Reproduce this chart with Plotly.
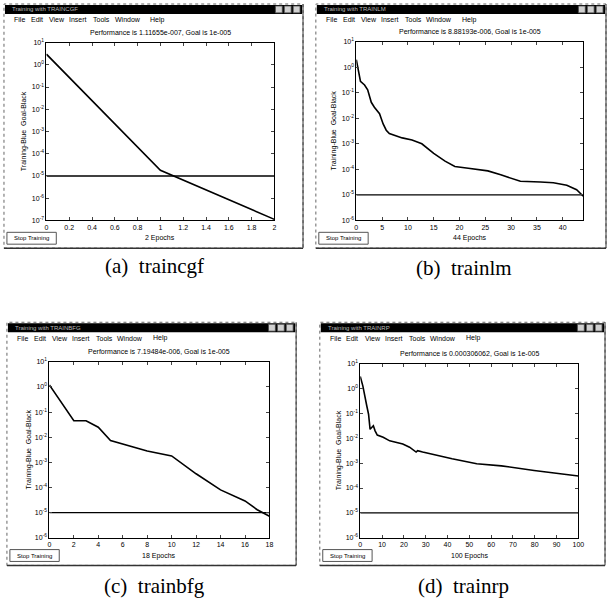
import plotly.graph_objects as go

W, H = 613, 602

# ---------------- data ----------------
goal = 1e-5

a_epochs = [0, 1, 2]
a_perf = [3.0, 1.8e-5, 1.11655e-7]

b_epochs = [0, 0.3, 0.8, 1.6, 2.2, 2.9, 3.5, 4.5, 5.2, 5.8, 6.4, 8.9, 10.8, 12.7, 15,
            17.2, 19.1, 21.7, 25.5, 28, 30, 31.8, 35.7, 38.2, 40.8, 42.7, 44]
b_perf = [1.95, 0.8, 0.28, 0.2, 0.13, 0.042, 0.027, 0.015, 0.006, 0.0034, 0.0025, 0.0017,
          0.0014, 0.001, 4.2e-4, 2.1e-4, 1.3e-4, 1.1e-4, 8.7e-5, 6.1e-5, 4.6e-5, 3.4e-5,
          3.2e-5, 3.0e-5, 2.4e-5, 1.6e-5, 8.88193e-6]

c_epochs = [0, 2, 3, 4, 5, 6, 8, 10, 12, 14, 16, 17, 18]
c_perf = [1.2, 0.045, 0.045, 0.025, 0.0073, 0.0052, 0.0028, 0.0018, 3.5e-4, 8e-5,
          2.9e-5, 1.3e-5, 7.19484e-6]

d_epochs = [0, 1.2, 3.0, 3.8, 4.5, 6.0, 6.8, 7.8, 10.5, 13.5, 19.5, 22.6, 25.6, 26.3,
            28.6, 34.6, 42.1, 53.4, 64.7, 79.7, 90.2, 100]
d_perf = [3.1, 1.26, 0.2, 0.093, 0.023, 0.032, 0.02, 0.0135, 0.011, 0.0079, 0.0059,
          0.0044, 0.0028, 0.0032, 0.0028, 0.0021, 0.0015, 9.5e-4, 7.8e-4, 5.1e-4,
          3.8e-4, 3.06062e-4]

a_xticks = [0, 0.2, 0.4, 0.6, 0.8, 1, 1.2, 1.4, 1.6, 1.8, 2]
a_xticktext = ["0", "0.2", "0.4", "0.6", "0.8", "1", "1.2", "1.4", "1.6", "1.8", "2"]
b_xticks = [0, 5, 10, 15, 20, 25, 30, 35, 40]
c_xticks = [0, 2, 4, 6, 8, 10, 12, 14, 16, 18]
d_xticks = [0, 10, 20, 30, 40, 50, 60, 70, 80, 90, 100]

a_yexp = [1, 0, -1, -2, -3, -4, -5, -6, -7]
bcd_yexp = [1, 0, -1, -2, -3, -4, -5, -6]

titles = ["Performance is 1.11655e-007, Goal is 1e-005",
          "Performance is 8.88193e-006, Goal is 1e-005",
          "Performance is 7.19484e-006, Goal is 1e-005",
          "Performance is 0.000306062, Goal is 1e-005"]
xtitles = ["2 Epochs", "44 Epochs", "18 Epochs", "100 Epochs"]
captions = ["(a)  traincgf", "(b)  trainlm", "(c)  trainbfg", "(d)  trainrp"]
wintitles = ["Training with TRAINCGF", "Training with TRAINLM",
             "Training with TRAINBFG", "Training with TRAINRP"]
menu_items = ["File", "Edit", "View", "Insert", "Tools", "Window", "Help"]

# ---------------- layout geometry (pixels) ----------------
panels = [
    dict(x=a_epochs, y=a_perf, xt=a_xticks, xtt=a_xticktext, yexp=a_yexp, xmax=2,
         plot=(45, 39, 276, 219), win=(2, 0, 305, 247), cap=(155, 265), ylab_x=22),
    dict(x=b_epochs, y=b_perf, xt=b_xticks, xtt=[str(v) for v in b_xticks], yexp=bcd_yexp, xmax=44,
         plot=(359, 38, 589, 219), win=(318, 0, 612, 247), cap=(468, 267), ylab_x=336),
    dict(x=c_epochs, y=c_perf, xt=c_xticks, xtt=[str(v) for v in c_xticks], yexp=bcd_yexp, xmax=18,
         plot=(48, 362, 271, 540), win=(5, 322, 298, 568), cap=(155, 589), ylab_x=27),
    dict(x=d_epochs, y=d_perf, xt=d_xticks, xtt=[str(v) for v in d_xticks], yexp=bcd_yexp, xmax=100,
         plot=(363, 364, 584, 540), win=(322, 322, 611, 568), cap=(468, 589), ylab_x=341),
]
menu_off = [8, 25, 44, 64, 88, 110, 146]


def PX(px):
    return px / W


def PY(py):
    return 1 - py / H


fig = go.Figure()
shapes = []
annotations = []
layout_axes = {}

for i, p in enumerate(panels):
    n = "" if i == 0 else str(i + 1)
    xa, ya = "x" + n, "y" + n
    x0, y0, x1, y1 = p["plot"]
    wx0, wy0, wx1, wy1 = p["win"]

    fig.add_trace(go.Scatter(x=p["x"], y=p["y"], xaxis=xa, yaxis=ya, mode="lines",
                             line=dict(color="black", width=1.6), showlegend=False))
    fig.add_trace(go.Scatter(x=[0, p["xmax"]], y=[goal, goal], xaxis=xa, yaxis=ya,
                             mode="lines", line=dict(color="black", width=1.3),
                             showlegend=False))

    common = dict(ticks="inside", ticklen=3, mirror="ticks", showline=True,
                  linecolor="black", linewidth=1, showgrid=False, zeroline=False,
                  tickfont=dict(size=7, family="Arial", color="black"))
    layout_axes["xaxis" + n] = dict(domain=[PX(x0), PX(x1)], range=[0, p["xmax"]],
                                    anchor=ya, tickvals=p["xt"], ticktext=p["xtt"], **common)
    layout_axes["yaxis" + n] = dict(domain=[PY(y1), PY(y0)], type="log",
                                    range=[min(p["yexp"]), max(p["yexp"])], anchor=xa,
                                    tickvals=[10.0 ** e for e in p["yexp"]],
                                    ticktext=["10<sup>%d</sup>" % e for e in p["yexp"]],
                                    **common)

    # window frame
    shapes.append(dict(type="rect", xref="paper", yref="paper", x0=PX(wx0), x1=PX(wx1),
                       y0=PY(wy1), y1=PY(wy0), line=dict(color="#666", width=1, dash="dot"),
                       fillcolor="rgba(0,0,0,0)", layer="below"))
    shapes.append(dict(type="line", xref="paper", yref="paper", x0=PX(wx0), x1=PX(wx1),
                       y0=PY(wy1), y1=PY(wy1), line=dict(color="#333", width=1.5)))
    shapes.append(dict(type="line", xref="paper", yref="paper", x0=PX(wx1), x1=PX(wx1),
                       y0=PY(wy1), y1=PY(wy0), line=dict(color="#333", width=1)))
    # title bar
    shapes.append(dict(type="rect", xref="paper", yref="paper", x0=PX(wx0 + 1), x1=PX(wx1 - 1),
                       y0=PY(wy0 + 10), y1=PY(wy0 + 1), line=dict(width=0), fillcolor="black"))
    for k in range(3):
        bx1 = wx1 - 3 - k * 9
        shapes.append(dict(type="rect", xref="paper", yref="paper", x0=PX(bx1 - 7), x1=PX(bx1),
                           y0=PY(wy0 + 9), y1=PY(wy0 + 2), line=dict(color="#444", width=0.8),
                           fillcolor="#d0d0d0"))
    annotations.append(dict(x=PX(wx0 + 6), y=PY(wy0 + 5.5), xref="paper", yref="paper",
                            text=wintitles[i], showarrow=False, xanchor="left", yanchor="middle",
                            font=dict(size=6, family="Arial", color="#bbbbbb")))
    # menu
    for m, off in zip(menu_items, menu_off):
        annotations.append(dict(x=PX(wx0 + off), y=PY(wy0 + 16), xref="paper", yref="paper",
                                text=m, showarrow=False, xanchor="left", yanchor="middle",
                                font=dict(size=7, family="Arial", color="black")))
    # plot title
    annotations.append(dict(x=PX((x0 + x1) / 2), y=PY(y0 - 10), xref="paper", yref="paper",
                            text=titles[i], showarrow=False, xanchor="center", yanchor="middle",
                            font=dict(size=7, family="Arial", color="black")))
    # x title
    annotations.append(dict(x=PX((x0 + x1) / 2), y=PY(y1 + 18), xref="paper", yref="paper",
                            text=xtitles[i], showarrow=False, xanchor="center", yanchor="middle",
                            font=dict(size=7, family="Arial", color="black")))
    # y title
    annotations.append(dict(x=PX(p["ylab_x"]), y=PY((y0 + y1) / 2), xref="paper", yref="paper",
                            text="Training-Blue  Goal-Black", showarrow=False, textangle=-90,
                            xanchor="center", yanchor="middle",
                            font=dict(size=7, family="Arial", color="black")))
    # stop training button
    shapes.append(dict(type="rect", xref="paper", yref="paper", x0=PX(wx0 + 3), x1=PX(wx0 + 53),
                       y0=PY(wy1 - 4), y1=PY(wy1 - 16), line=dict(color="#555", width=1),
                       fillcolor="rgba(0,0,0,0)"))
    annotations.append(dict(x=PX(wx0 + 28), y=PY(wy1 - 10), xref="paper", yref="paper",
                            text="Stop Training", showarrow=False, xanchor="center",
                            yanchor="middle", font=dict(size=6, family="Arial", color="black")))
    # caption
    annotations.append(dict(x=PX(p["cap"][0]), y=PY(p["cap"][1]), xref="paper", yref="paper",
                            text=captions[i], showarrow=False, xanchor="center", yanchor="middle",
                            font=dict(size=21, family="Liberation Serif", color="black")))

fig.update_layout(width=W, height=H, margin=dict(l=0, r=0, t=0, b=0),
                  paper_bgcolor="white", plot_bgcolor="white", showlegend=False,
                  shapes=shapes, annotations=annotations, **layout_axes)

fig.write_html("out.html", config={"displayModeBar": False},
               post_script="document.body.style.margin='0px';")
